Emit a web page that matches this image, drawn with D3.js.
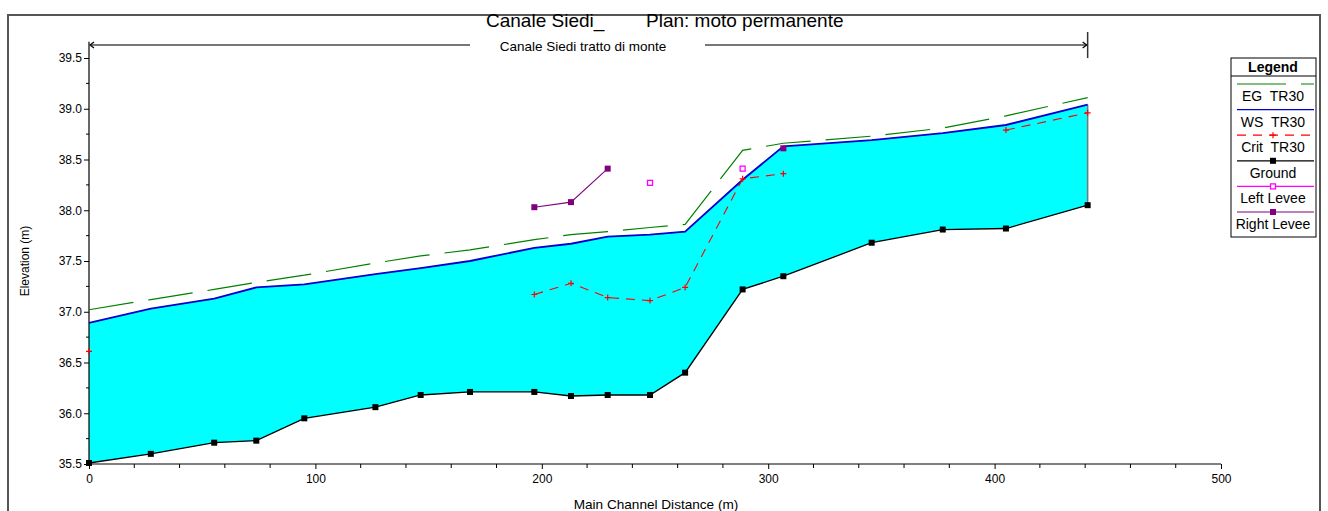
<!DOCTYPE html>
<html>
<head>
<meta charset="utf-8">
<script src="https://cdn.jsdelivr.net/npm/d3@7"></script>
<style>
  html, body { margin: 0; padding: 0; background: #fff; }
  svg { display: block; font-family: "Liberation Sans", Arial, sans-serif; }
  text { white-space: pre; }
</style>
</head>
<body>
<svg id="chart" width="1328" height="511"></svg>
<script>
// ---- data ----
const stations   = [0, 27.3, 55.3, 73.9, 95.1, 126.5, 146.5, 168.3, 196.7, 212.9, 229.1, 247.8, 263.3, 288.7, 306.7, 345.7, 377.1, 405.0, 441.1];
const ground     = [35.51, 35.60, 35.71, 35.73, 35.95, 36.06, 36.18, 36.21, 36.21, 36.17, 36.18, 36.18, 36.40, 37.22, 37.35, 37.68, 37.81, 37.82, 38.05];
const wsTR30     = [36.89, 37.03, 37.13, 37.24, 37.27, 37.37, 37.43, 37.50, 37.63, 37.67, 37.74, 37.76, 37.79, 38.30, 38.63, 38.69, 38.76, 38.84, 39.04];
const egTR30     = [37.02, 37.12, 37.22, 37.29, 37.36, 37.48, 37.55, 37.61, 37.71, 37.76, 37.79, 37.83, 37.86, 38.59, 38.66, 38.73, 38.81, 38.93, 39.11];
const critTR30   = [36.61, null, null, null, null, null, null, null, 37.17, 37.28, 37.14, 37.11, 37.24, 38.31, 38.36, null, null, 38.79, 38.96];
const leftLevee  = [null, null, null, null, null, null, null, null, null, null, null, 38.27, null, 38.41, null, null, null, null, null];
const rightLevee = [null, null, null, null, null, null, null, null, 38.03, 38.08, 38.41, null, null, null, 38.61, null, null, null, null];

const xTicks = [0, 100, 200, 300, 400, 500];
const yTicks = [35.5, 36.0, 36.5, 37.0, 37.5, 38.0, 38.5, 39.0, 39.5];
const titleLeft = "Canale Siedi_";
const titleRight = "Plan: moto permanente";
const reachName = "Canale Siedi tratto di monte";
const reachStart = 0, reachEnd = 441.1;
const legendLabels = ["EG  TR30", "WS  TR30", "Crit  TR30", "Ground", "Left Levee", "Right Levee"];

// ---- layout ----
const svg = d3.select("#chart");
const x = d3.scaleLinear().domain([0, 500]).range([89, 1221]);
const y = d3.scaleLinear().domain([35.5, 39.5]).range([464, 58]);
const yTop = 39.66;

// outer frame
svg.append("rect").attr("x", 8).attr("y", 15).attr("width", 1312).attr("height", 520)
  .attr("fill", "none").attr("stroke", "#555").attr("stroke-width", 2);

// title
svg.append("text").attr("x", 486).attr("y", 27).attr("font-size", 19).text(titleLeft);
svg.append("text").attr("x", 646).attr("y", 27).attr("font-size", 19).text(titleRight);

const rows = stations.map((s, i) => ({s, g: ground[i], ws: wsTR30[i], eg: egTR30[i], cr: critTR30[i], ll: leftLevee[i], rl: rightLevee[i]}));

// water fill
const area = d3.area().x(d => x(d.s)).y0(d => y(d.g)).y1(d => y(d.ws));
svg.append("path").datum(rows).attr("d", area).attr("fill", "#00ffff").attr("stroke", "none");
const last = rows[rows.length - 1];
svg.append("line").attr("x1", x(last.s)).attr("x2", x(last.s)).attr("y1", y(last.ws)).attr("y2", y(last.g))
  .attr("stroke", "#777").attr("stroke-width", 1.5);

// axes
const yAxis = d3.axisLeft(y).tickValues(yTicks).tickFormat(d3.format(".1f")).tickSize(5).tickPadding(2);
const gy = svg.append("g").attr("transform", `translate(${x(0)},0)`).call(yAxis);
gy.select(".domain").remove();
gy.selectAll("text").attr("font-size", 12).attr("font-family", "Liberation Sans, Arial, sans-serif").attr("fill", "#000");
const yMinor = d3.range(35.75, 39.6, 0.5);
svg.append("g").selectAll("line").data(yMinor).join("line")
  .attr("x1", x(0) - 3).attr("x2", x(0)).attr("y1", d => y(d)).attr("y2", d => y(d)).attr("stroke", "#000");
svg.append("line").attr("x1", x(0)).attr("x2", x(0)).attr("y1", y(35.5)).attr("y2", y(yTop)).attr("stroke", "#000").attr("stroke-width", 1.2);

const xAxis = d3.axisBottom(x).tickValues(xTicks).tickFormat(d3.format("d")).tickSize(5).tickPadding(5);
const gx = svg.append("g").attr("transform", `translate(0,${y(35.5)})`).call(xAxis);
gx.select(".domain").remove();
gx.selectAll("text").attr("font-size", 12).attr("font-family", "Liberation Sans, Arial, sans-serif").attr("fill", "#000");
const xMinor = d3.range(20, 500, 20).filter(v => v % 100 !== 0);
svg.append("g").selectAll("line").data(xMinor).join("line")
  .attr("x1", d => x(d)).attr("x2", d => x(d)).attr("y1", y(35.5)).attr("y2", y(35.5) + 4).attr("stroke", "#000");
svg.append("line").attr("x1", x(0)).attr("x2", x(500)).attr("y1", y(35.5)).attr("y2", y(35.5)).attr("stroke", "#000").attr("stroke-width", 1.2);

// axis titles
svg.append("text").attr("x", 656).attr("y", 509).attr("text-anchor", "middle").attr("font-size", 13.6).text("Main Channel Distance (m)");
svg.append("text").attr("transform", "translate(29,261) rotate(-90)").attr("text-anchor", "middle").attr("font-size", 12).text("Elevation (m)");

// reach arrow
const ay = 45;
svg.append("line").attr("x1", x(reachStart)).attr("x2", 470).attr("y1", ay).attr("y2", ay).attr("stroke", "#777").attr("stroke-width", 2);
svg.append("line").attr("x1", 705).attr("x2", x(reachEnd)).attr("y1", ay).attr("y2", ay).attr("stroke", "#777").attr("stroke-width", 2);
svg.append("path").attr("d", `M${x(reachStart)+5},${ay-3} L${x(reachStart)+1},${ay} L${x(reachStart)+5},${ay+3}`).attr("fill", "none").attr("stroke", "#000").attr("stroke-width", 1.2);
svg.append("path").attr("d", `M${x(reachEnd)-5},${ay-3} L${x(reachEnd)-1},${ay} L${x(reachEnd)-5},${ay+3}`).attr("fill", "none").attr("stroke", "#000").attr("stroke-width", 1.2);
svg.append("line").attr("x1", x(reachEnd)).attr("x2", x(reachEnd)).attr("y1", 32).attr("y2", 58).attr("stroke", "#333").attr("stroke-width", 1.5);
svg.append("text").attr("x", 583).attr("y", 51).attr("text-anchor", "middle").attr("font-size", 13.5).text(reachName);

// lines
const lineOf = key => d3.line().defined(d => d[key] != null).x(d => x(d.s)).y(d => y(d[key]));
svg.append("path").datum(rows).attr("d", lineOf("ws")).attr("fill", "none").attr("stroke", "#0000cc").attr("stroke-width", 1.8);
svg.append("path").datum(rows).attr("d", lineOf("eg")).attr("fill", "none").attr("stroke", "#008000").attr("stroke-width", 1.2).attr("stroke-dasharray", "45,15");
svg.append("path").datum(rows).attr("d", lineOf("cr")).attr("fill", "none").attr("stroke", "#ff0000").attr("stroke-width", 1.1).attr("stroke-dasharray", "9,7");
svg.append("path").datum(rows).attr("d", lineOf("g")).attr("fill", "none").attr("stroke", "#000").attr("stroke-width", 1.3);
svg.append("path").datum(rows).attr("d", lineOf("rl")).attr("fill", "none").attr("stroke", "#800080").attr("stroke-width", 1.1);

// markers
function plus(g, cx, cy, color) {
  g.append("path").attr("d", `M${cx-3},${cy} H${cx+3} M${cx},${cy-3} V${cy+3}`).attr("stroke", color).attr("stroke-width", 1.2).attr("fill", "none");
}
const mk = svg.append("g");
rows.filter(d => d.cr != null).forEach(d => plus(mk, x(d.s), y(d.cr), "#ff0000"));
mk.selectAll(".gsq").data(rows).join("rect").attr("class", "gsq")
  .attr("x", d => x(d.s) - 3).attr("y", d => y(d.g) - 3).attr("width", 6).attr("height", 6).attr("fill", "#000");
mk.selectAll(".llsq").data(rows.filter(d => d.ll != null)).join("rect").attr("class", "llsq")
  .attr("x", d => x(d.s) - 2.5).attr("y", d => y(d.ll) - 2.5).attr("width", 5).attr("height", 5).attr("fill", "#fff").attr("stroke", "#ff00ff").attr("stroke-width", 1.3);
mk.selectAll(".rlsq").data(rows.filter(d => d.rl != null)).join("rect").attr("class", "rlsq")
  .attr("x", d => x(d.s) - 3).attr("y", d => y(d.rl) - 3).attr("width", 6).attr("height", 6).attr("fill", "#800080");

// legend
const lg = svg.append("g");
lg.append("rect").attr("x", 1231).attr("y", 58).attr("width", 85).attr("height", 179).attr("fill", "#fff").attr("stroke", "#000");
lg.append("line").attr("x1", 1231).attr("x2", 1316).attr("y1", 76).attr("y2", 76).attr("stroke", "#000");
lg.append("text").attr("x", 1273).attr("y", 72).attr("text-anchor", "middle").attr("font-size", 14).attr("font-weight", "bold").text("Legend");
const lgStyles = [
  {stroke: "#008000", dash: "49,15", marker: null},
  {stroke: "#0000cc", dash: null, marker: null},
  {stroke: "#ff0000", dash: "9,7", marker: "plus"},
  {stroke: "#000", dash: null, marker: "gsq"},
  {stroke: "#ff00ff", dash: null, marker: "open"},
  {stroke: "#800080", dash: null, marker: "fsq"}
];
legendLabels.forEach((lab, i) => {
  const ly = 84 + i * 25.6;
  const st = lgStyles[i];
  const l = lg.append("line").attr("x1", 1237).attr("x2", 1314).attr("y1", ly).attr("y2", ly).attr("stroke", st.stroke).attr("stroke-width", 1.2);
  if (st.dash) l.attr("stroke-dasharray", st.dash);
  const cx = 1273;
  if (st.marker === "plus") plus(lg, cx, ly, "#ff0000");
  if (st.marker === "gsq") lg.append("rect").attr("x", cx - 3).attr("y", ly - 3).attr("width", 6).attr("height", 6).attr("fill", "#000");
  if (st.marker === "open") lg.append("rect").attr("x", cx - 2.5).attr("y", ly - 2.5).attr("width", 5).attr("height", 5).attr("fill", "#fff").attr("stroke", "#ff00ff").attr("stroke-width", 1.3);
  if (st.marker === "fsq") lg.append("rect").attr("x", cx - 3).attr("y", ly - 3).attr("width", 6).attr("height", 6).attr("fill", "#800080");
  lg.append("text").attr("x", cx).attr("y", ly + 17).attr("text-anchor", "middle").attr("font-size", 14).text(lab);
});
</script>
</body>
</html>
